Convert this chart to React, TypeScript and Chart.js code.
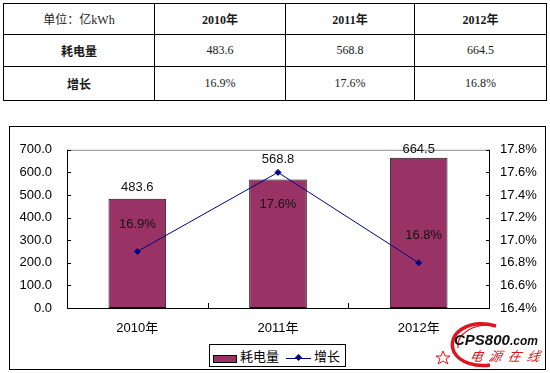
import React, { useEffect, useRef } from 'react';
import { Chart, registerables } from 'chart.js';

Chart.register(...registerables);

// ---- data ----
const categories = ['2010年', '2011年', '2012年'];
const consumption = [483.6, 568.8, 664.5];
const growth = [16.9, 17.6, 16.8];
const leftTicks = [0, 100, 200, 300, 400, 500, 600, 700];
const rightTicks = [16.4, 16.6, 16.8, 17.0, 17.2, 17.4, 17.6, 17.8];
const unitLabel = '单位：亿kWh';
const seriesNames = ['耗电量', '增长'];

// ---- styles ----
const BAR_COLOR = '#993366';
const LINE_COLOR = '#000080';
const SANS = '"Liberation Sans", Arial, "Noto Sans CJK SC", sans-serif';
const SERIF = '"Liberation Serif", "Times New Roman", "Noto Sans CJK SC", serif';
const barLabelLift = [11, 20, 8];
const lineLabelShift: [number, number][] = [[0, -27], [0, 32], [5, -27]];

const decorPlugin = {
  id: 'decor',
  afterDatasetsDraw(chart: any) {
    const { ctx, chartArea: a, scales } = chart;
    ctx.save();
    ctx.lineWidth = 1;
    ctx.strokeStyle = '#8c8c8c';
    ctx.beginPath();
    ctx.moveTo(a.left, a.top + 0.5);
    ctx.lineTo(a.right, a.top + 0.5);
    ctx.stroke();
    ctx.strokeStyle = '#000';
    ctx.beginPath();
    ctx.moveTo(a.left + 0.5, a.top);
    ctx.lineTo(a.left + 0.5, a.bottom + 1);
    ctx.moveTo(a.left, a.bottom + 0.5);
    ctx.lineTo(a.right + 1, a.bottom + 0.5);
    ctx.moveTo(a.right + 0.5, a.top);
    ctx.lineTo(a.right + 0.5, a.bottom + 1);
    scales.y.ticks.forEach((t: any) => {
      const y = Math.round(scales.y.getPixelForValue(t.value)) + 0.5;
      ctx.moveTo(a.left, y);
      ctx.lineTo(a.left + 4, y);
    });
    scales.y1.ticks.forEach((t: any) => {
      const y = Math.round(scales.y1.getPixelForValue(t.value)) + 0.5;
      ctx.moveTo(a.right + 1, y);
      ctx.lineTo(a.right - 3, y);
    });
    const n = categories.length;
    for (let i = 1; i < n; i++) {
      const x = Math.round(a.left + ((a.right - a.left) * i) / n) + 0.5;
      ctx.moveTo(x, a.bottom);
      ctx.lineTo(x, a.bottom - 5);
    }
    ctx.stroke();

    ctx.font = `13px ${SANS}`;
    ctx.fillStyle = '#111';
    ctx.textAlign = 'center';
    ctx.textBaseline = 'middle';
    const barMeta = chart.getDatasetMeta(0);
    barMeta.data.forEach((el: any, i: number) => {
      ctx.fillText(consumption[i].toFixed(1), el.x, el.y - barLabelLift[i]);
    });
    const lineMeta = chart.getDatasetMeta(1);
    lineMeta.data.forEach((el: any, i: number) => {
      const [dx, dy] = lineLabelShift[i];
      ctx.fillText(growth[i].toFixed(1) + '%', el.x + dx, el.y + dy);
    });
    ctx.restore();
  },
};

function ChartBox() {
  const ref = useRef<HTMLCanvasElement | null>(null);
  useEffect(() => {
    if (!ref.current) return;
    const chart = new Chart(ref.current, {
      type: 'bar',
      data: {
        labels: categories,
        datasets: [
          {
            type: 'bar',
            label: seriesNames[0],
            data: consumption,
            backgroundColor: BAR_COLOR,
            borderColor: '#111',
            borderWidth: 1,
            borderSkipped: false,
            barPercentage: 0.41,
            categoryPercentage: 1,
            yAxisID: 'y',
            order: 2,
          } as any,
          {
            type: 'line',
            label: seriesNames[1],
            data: growth,
            borderColor: LINE_COLOR,
            backgroundColor: LINE_COLOR,
            borderWidth: 1,
            pointStyle: 'rectRot',
            pointRadius: 3,
            pointBorderWidth: 1,
            yAxisID: 'y1',
            order: 1,
          } as any,
        ],
      },
      options: {
        responsive: false,
        animation: false,
        layout: { padding: { top: 15, left: 0, right: 0, bottom: 0 } },
        plugins: { legend: { display: false }, tooltip: { enabled: false } },
        scales: {
          x: {
            grid: { display: false, drawTicks: false },
            border: { display: false },
            ticks: { color: '#000', font: { size: 13, family: SANS }, padding: 13 },
            afterFit: (s: any) => { s.height = 61; },
          },
          y: {
            position: 'left',
            min: 0,
            max: 700,
            grid: { display: false, drawTicks: false },
            border: { display: false },
            afterBuildTicks: (s: any) => { s.ticks = leftTicks.map((v) => ({ value: v })); },
            ticks: {
              color: '#000',
              font: { size: 13, family: SANS },
              padding: 15,
              callback: (v: any) => Number(v).toFixed(1),
            },
            afterFit: (s: any) => { s.width = 57; },
          },
          y1: {
            position: 'right',
            min: 16.4,
            max: 17.8,
            grid: { display: false, drawTicks: false },
            border: { display: false },
            afterBuildTicks: (s: any) => { s.ticks = rightTicks.map((v) => ({ value: v })); },
            ticks: {
              color: '#000',
              font: { size: 13, family: SANS },
              padding: 11,
              callback: (v: any) => Number(v).toFixed(1) + '%',
            },
            afterFit: (s: any) => { s.width = 56; },
          },
        },
      },
      plugins: [decorPlugin],
    });
    return () => chart.destroy();
  }, []);
  return <canvas ref={ref} width={535} height={242} style={{ display: 'block', width: 535, height: 242 }} />;
}

const colX = [3, 154, 285, 414, 546];
const rowY = [3, 34, 66, 100];

function Table() {
  const rows: { text: string; bold: boolean; cjkBold?: boolean }[][] = [
    [{ text: unitLabel, bold: false }, ...categories.map((c) => ({ text: c, bold: true }))],
    [{ text: seriesNames[0], bold: true, cjkBold: true }, ...consumption.map((v) => ({ text: v.toFixed(1), bold: false }))],
    [{ text: seriesNames[1], bold: true, cjkBold: true }, ...growth.map((v) => ({ text: v.toFixed(1) + '%', bold: false }))],
  ];
  const cells: React.ReactNode[] = [];
  rows.forEach((row, r) => {
    row.forEach((cell, c) => {
      cells.push(
        <div
          key={`${r}-${c}`}
          style={{
            position: 'absolute',
            left: colX[c],
            top: rowY[r],
            width: colX[c + 1] - colX[c] + 1,
            height: rowY[r + 1] - rowY[r] + 1,
            border: '1px solid #000',
            boxSizing: 'border-box',
            display: 'flex',
            alignItems: 'center',
            justifyContent: 'center',
            fontFamily: cell.cjkBold ? '"Noto Sans CJK SC", sans-serif' : SERIF,
            fontWeight: cell.bold ? 700 : 400,
            fontSize: 12,
            color: '#1a1a1a',
          }}
        >
          {cell.text}
        </div>
      );
    });
  });
  return <>{cells}</>;
}

function Legend() {
  return (
    <div
      style={{
        position: 'absolute',
        left: 209,
        top: 344,
        width: 137,
        height: 23,
        border: '1px solid #000',
        boxSizing: 'border-box',
        background: '#fff',
        fontFamily: '"Noto Sans CJK SC", sans-serif',
        fontSize: 13,
        color: '#000',
      }}
    >
      <div style={{ position: 'absolute', left: 3, top: 10, width: 22, height: 6, background: BAR_COLOR, border: '1px solid #000' }} />
      <div style={{ position: 'absolute', left: 30, top: 1, lineHeight: '20px' }}>{seriesNames[0]}</div>
      <div style={{ position: 'absolute', left: 76, top: 13, width: 25, height: 1, background: LINE_COLOR }} />
      <div style={{ position: 'absolute', left: 86, top: 10, width: 5, height: 5, background: LINE_COLOR, transform: 'rotate(45deg)' }} />
      <div style={{ position: 'absolute', left: 104, top: 1, lineHeight: '20px' }}>{seriesNames[1]}</div>
    </div>
  );
}

function Watermark() {
  return (
    <>
      <svg style={{ position: 'absolute', left: 430, top: 320, overflow: 'visible' }} width={120} height={50}>
        <path d="M 66 6 C 38 -2, 16 14, 24 32 C 30 43, 46 47, 60 45" fill="none" stroke="#e0141e" strokeWidth={3.5} />
        <path d="M 66 6 C 44 2, 26 14, 28 28" fill="none" stroke="#e0141e" strokeWidth={1.2} />
        <polygon points="13,31 15,36 20,36 16,39 18,44 13,41 8,44 10,39 6,36 11,36" fill="none" stroke="#e0141e" strokeWidth={1} />
      </svg>
      <div style={{ position: 'absolute', left: 454, top: 332, fontFamily: SANS, fontWeight: 700, fontStyle: 'italic', fontSize: 15, color: '#111', whiteSpace: 'nowrap', lineHeight: '16px' }}>
        CPS800<span style={{ fontSize: 12 }}>.com</span>
      </div>
      <div style={{ position: 'absolute', left: 470, top: 348, fontFamily: '"Noto Sans CJK SC", sans-serif', fontStyle: 'italic', fontSize: 13, color: '#e0141e', letterSpacing: 6, whiteSpace: 'nowrap', lineHeight: '16px', transform: 'skewX(-12deg)' }}>
        电源在线
      </div>
    </>
  );
}

export default function App() {
  useEffect(() => {
    document.body.style.margin = '0';
  }, []);
  return (
    <div style={{ position: 'relative', width: 550, height: 373, background: '#fff', overflow: 'hidden' }}>
      <Table />
      <div style={{ position: 'absolute', left: 9, top: 126, width: 537, height: 244, border: '1px solid #000', boxSizing: 'border-box' }}>
        <ChartBox />
      </div>
      <Legend />
      <Watermark />
    </div>
  );
}
